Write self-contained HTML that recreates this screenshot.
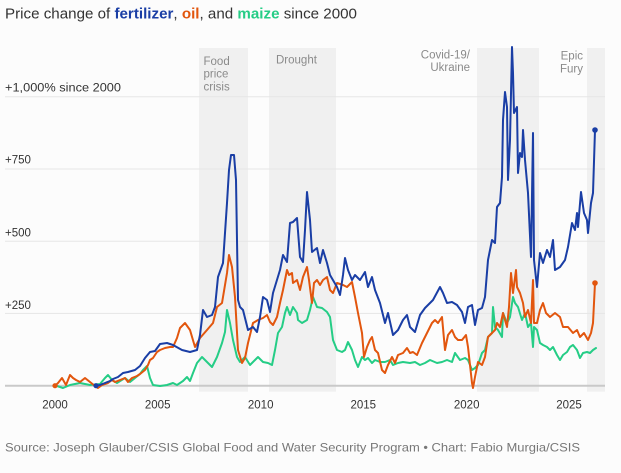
<!DOCTYPE html>
<html>
<head>
<meta charset="utf-8">
<style>
html,body{margin:0;padding:0;background:#fcfcfc;}
svg{display:block;}
text{font-family:"Liberation Sans",sans-serif;}
</style>
</head>
<body>
<svg width="621" height="473" viewBox="0 0 621 473" xmlns="http://www.w3.org/2000/svg">
<rect x="0" y="0" width="621" height="473" fill="#fcfcfc"/>
<!-- title -->
<text x="5" y="18.3" font-size="15" fill="#333" textLength="352" lengthAdjust="spacingAndGlyphs">Price change of <tspan fill="#1a3ea5" font-weight="bold">fertilizer</tspan>, <tspan fill="#e2560e" font-weight="bold">oil</tspan>, and <tspan fill="#25cd86" font-weight="bold">maize</tspan> since 2000</text>

<!-- bands -->
<g fill="#f0f0f0">
<rect x="199" y="48" width="49" height="343.7"/>
<rect x="269" y="48" width="67" height="343.7"/>
<rect x="477" y="48" width="62" height="343.7"/>
<rect x="587" y="48" width="18" height="343.7"/>
</g>
<!-- band labels -->
<g font-size="11.5" fill="#8a8a8a">
<text x="203.5" y="65">Food</text>
<text x="203.5" y="77.5">price</text>
<text x="203.5" y="90.5">crisis</text>
<text x="276" y="63.3">Drought</text>
<text x="470" y="58.3" text-anchor="end">Covid-19/</text>
<text x="470" y="70.8" text-anchor="end">Ukraine</text>
<text x="583" y="59.5" text-anchor="end">Epic</text>
<text x="583" y="72.5" text-anchor="end">Fury</text>
</g>

<!-- gridlines -->
<g stroke="#e6e6e6" stroke-width="1">
<line x1="5" x2="605" y1="96.7" y2="96.7"/>
<line x1="5" x2="605" y1="169" y2="169"/>
<line x1="5" x2="605" y1="241.2" y2="241.2"/>
<line x1="5" x2="605" y1="313.4" y2="313.4"/>
</g>
<line x1="5" x2="605" y1="385.7" y2="385.7" stroke="#c9c9c9" stroke-width="2"/>

<!-- y labels -->
<g font-size="11.5" fill="#333">
<text x="5" y="91.7" textLength="116" lengthAdjust="spacingAndGlyphs">+1,000% since 2000</text>
<text x="5" y="163.5">+750</text>
<text x="5" y="236.5">+500</text>
<text x="5" y="309">+250</text>
</g>

<!-- x labels -->
<g font-size="11.5" fill="#333" text-anchor="middle">
<text x="55" y="408.3">2000</text>
<text x="157.7" y="408.3">2005</text>
<text x="260.7" y="408.3">2010</text>
<text x="363.3" y="408.3">2015</text>
<text x="466.7" y="408.3">2020</text>
<text x="569" y="408.3">2025</text>
</g>

<!-- series -->
<g fill="none" stroke-width="2" stroke-linejoin="round" stroke-linecap="round">
<polyline stroke="#25cd86" points="57,386 63,388 70,385 80,383 90,385 100,384 105,378 108,375 112,380 117,383 125,378 130,382 135,378 140,374 143,370 147,366 150,378 153,385 160,386 167,385 173,383 177,385 183,381 187,377 190,381 193,373 197,363 202,357 207,362 212,367 217,357 222,343 225,332 227,310 230,323 233,340 237,357 240,362 245,357 250,365 255,360 258,357 263,362 268,363 272,365 275,350 278,333 282,327 285,313 287,307 290,315 293,307 297,313 298,320 302,323 307,320 310,310 313,297 317,307 322,308 327,312 330,317 333,340 337,350 342,352 345,350 348,342 352,350 355,360 358,367 362,357 365,360 368,358 372,363 375,360 380,362 385,362 390,360 393,365 398,363 403,362 410,363 415,362 420,365 425,363 430,360 437,363 442,362 447,360 452,362 455,353 460,360 465,358 468,360 472,370 475,368 478,365 482,353 485,350 488,337 492,333 493,307 495,327 498,330 502,337 503,313 507,323 510,317 513,297 515,303 518,307 522,320 525,313 528,327 531,323 533,347 534,327 537,330 540,343 543,345 547,347 550,350 553,347 557,355 560,360 563,355 567,352 570,347 573,345 577,350 580,358 583,353 587,352 590,353 593,350 596,348"/>
<polyline stroke="#e2560e" points="55,385.7 58,383 62,378 66,385 70,375 73,378 76,380 80,382 85,378 90,382 95,386 98,388 102,385 108,383 112,380 115,382 120,380 125,378 128,382 132,378 137,376 140,374 145,370 148,365 150,360 153,358 157,352 160,350 165,348 170,347 173,347 177,338 180,328 185,323 190,330 195,347 200,338 207,330 213,323 217,307 222,303 227,273 229,255 232,267 235,297 238,350 242,363 245,358 248,343 253,323 258,320 263,318 267,315 270,322 273,325 277,317 280,303 283,290 287,270 289,275 292,273 293,283 297,280 300,290 303,277 307,267 309,280 312,303 314,283 317,280 320,285 323,280 327,277 330,290 333,293 337,283 343,285 347,287 352,282 355,297 358,313 362,333 364,357 367,347 370,340 372,337 375,350 378,353 382,370 385,373 388,365 392,357 395,363 398,355 403,353 407,348 410,353 413,352 417,355 422,343 427,333 432,323 435,320 438,323 442,317 445,350 448,335 452,330 455,337 458,340 462,340 466,335 468,347 470,365 472,383 473,388 475,377 478,362 482,365 485,357 488,337 492,333 495,330 497,323 500,327 503,313 507,327 509,307 511,273 513,293 516,270 517,287 520,293 523,303 525,317 528,310 531,323 533,280 534,323 537,323 540,310 543,303 546,313 550,317 555,313 560,317 563,327 568,327 573,333 577,330 580,337 584,333 588,340 591,333 593,323 595,283"/>
<polyline stroke="#1a3ea5" points="96,385.7 100,385 105,383 110,381 113,379 118,377 123,373 128,372 135,370 140,366 145,358 150,352 155,351 160,344 167,343 173,345 182,350 190,352 197,350 200,335 203,310 207,317 212,315 215,307 218,277 223,263 227,203 229,170 231,155 234,155 236,180 238,300 240,307 243,310 248,330 253,327 257,332 260,317 263,297 267,300 270,312 273,293 280,270 283,255 287,262 290,223 293,222 297,218 300,257 303,262 305,230 307,192 310,220 312,252 317,248 320,263 323,250 327,263 330,275 337,287 340,295 343,275 345,258 348,270 352,280 355,275 360,280 365,272 368,287 372,277 375,290 380,303 385,323 388,313 393,335 398,330 403,320 407,315 410,327 415,332 420,315 425,308 428,305 433,300 440,287 443,293 447,303 452,302 457,305 462,312 465,323 468,307 472,305 475,325 478,310 482,308 485,297 488,260 492,240 495,243 497,207 500,203 502,177 503,120 505,92 507,107 508,180 510,140 512,47 513,73 514,113 517,107 518,173 520,153 522,157 523,130 525,160 528,193 531,257 533,133 534,260 537,287 540,253 543,263 547,250 550,257 553,240 555,270 560,267 565,260 568,247 572,223 575,230 577,213 578,227 581,192 584,213 587,220 588,233 591,203 593,193 595,130"/>
</g>
<!-- dots -->
<circle cx="55" cy="385.7" r="2.6" fill="#e2560e"/>
<circle cx="96" cy="385.7" r="2.6" fill="#1a3ea5"/>
<circle cx="595" cy="130" r="2.8" fill="#1a3ea5"/>
<circle cx="595" cy="283" r="2.8" fill="#e2560e"/>

<!-- source -->
<text x="5" y="451.5" font-size="12" fill="#777" textLength="575" lengthAdjust="spacingAndGlyphs">Source: Joseph Glauber/CSIS Global Food and Water Security Program • Chart: Fabio Murgia/CSIS</text>
</svg>
</body>
</html>
